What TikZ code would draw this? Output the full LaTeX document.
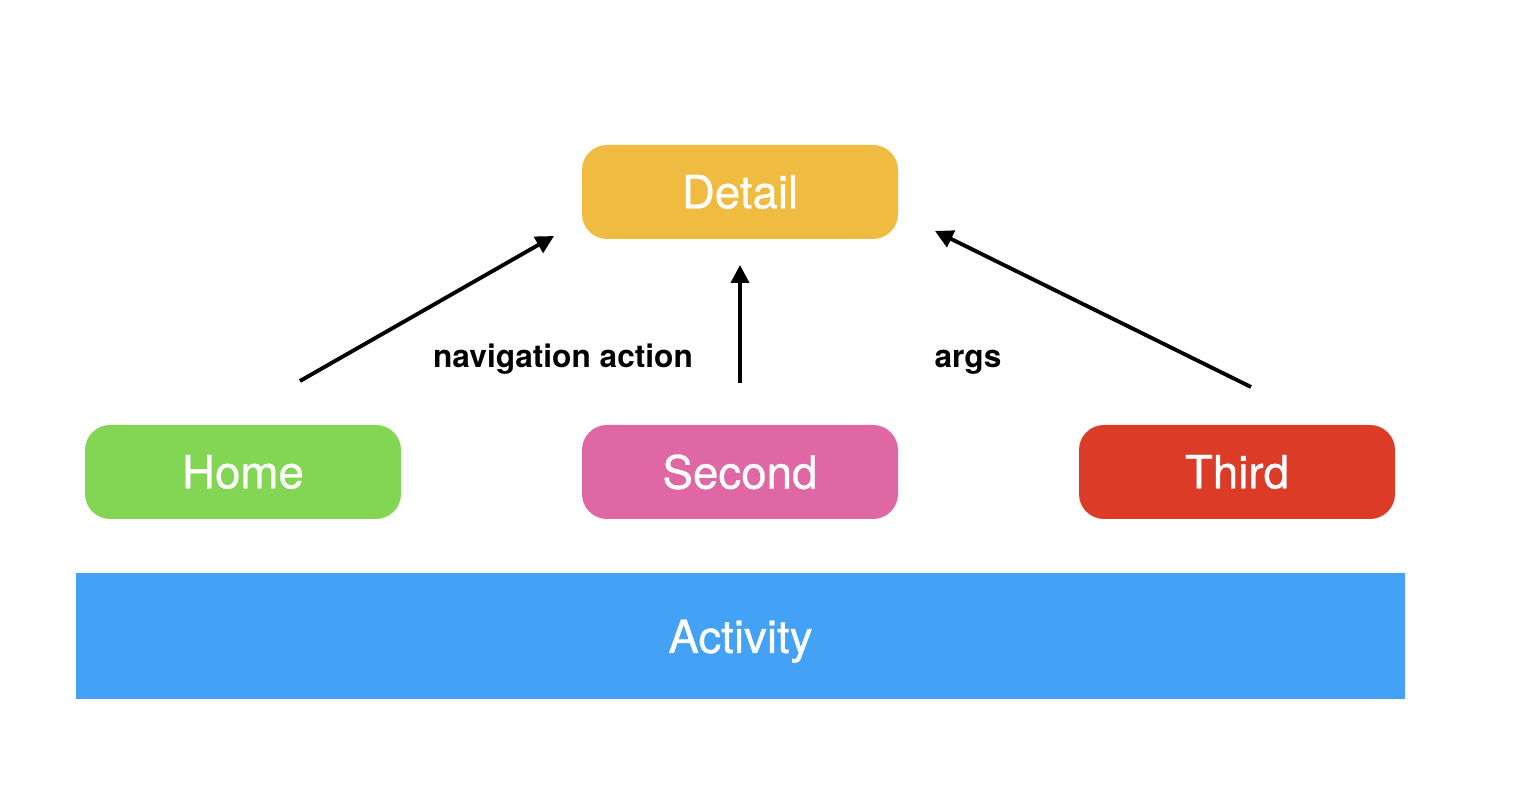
\documentclass[tikz,border=0pt]{standalone}
\usepackage{fontspec}
\setmainfont{TeX Gyre Heros}
\newfontfamily\boxfont[FakeBold=0.6]{TeX Gyre Heros}
\usetikzlibrary{arrows.meta}

\newcommand{\varW}{6.32cm}
\newcommand{\varH}{1.88cm}
\newcommand{\varrc}{0.5cm}
\definecolor{myyellow}{RGB}{239,187,64}
\definecolor{mygreen}{RGB}{130,214,83}
\definecolor{mypink}{RGB}{223,104,164}
\definecolor{myred}{RGB}{219,59,39}
\definecolor{myblue}{RGB}{68,162,246}

\begin{document}
\begin{tikzpicture}[
	screen/.style={draw=none, rounded corners=\varrc, minimum width=\varW, minimum height=\varH, inner sep=0pt, text=white, font=\boxfont\fontsize{26}{30}\selectfont},
	nav/.style={-{Triangle[length=0.36cm,width=0.36cm]}, line width=2.2pt},
	caption/.style={anchor=base, font=\bfseries\fontsize{18}{22}\selectfont}
	]

	\useasboundingbox (0,0) rectangle (30.64,16.2);

	% activity
	\draw [draw=none, fill=myblue] (1.52,2.22) rectangle (28.1,4.74);
	\node [anchor=base, text=white, font=\boxfont\fontsize{26}{30}\selectfont] (activity) at (14.81,3.14) {Activity};

	% screens
	\node [screen, fill=myyellow] (detail) at (14.8,12.36) {Detail};
	\node [screen, fill=mygreen] (home) at (4.86,6.76) {Home};
	\node [screen, fill=mypink] (second) at (14.8,6.76) {Second};
	\node [screen, fill=myred] (third) at (24.74,6.76) {Third};

	% arrow ends
	\coordinate (homeout) at (6.0,8.58);
	\coordinate (homein) at (11.08,11.48);
	\coordinate (secondout) at (14.8,8.54);
	\coordinate (secondin) at (14.8,10.9);
	\coordinate (thirdout) at (25.02,8.46);
	\coordinate (thirdin) at (18.7,11.58);

	% arrows
	\draw [nav] (homeout) -- (homein);
	\draw [nav] (secondout) -- (secondin);
	\draw [nav] (thirdout) -- (thirdin);

	% captions
	\node [caption] (action) at (11.26,8.84) {navigation action};
	\node [caption] (args) at (19.36,8.84) {args};
\end{tikzpicture}
\end{document}
